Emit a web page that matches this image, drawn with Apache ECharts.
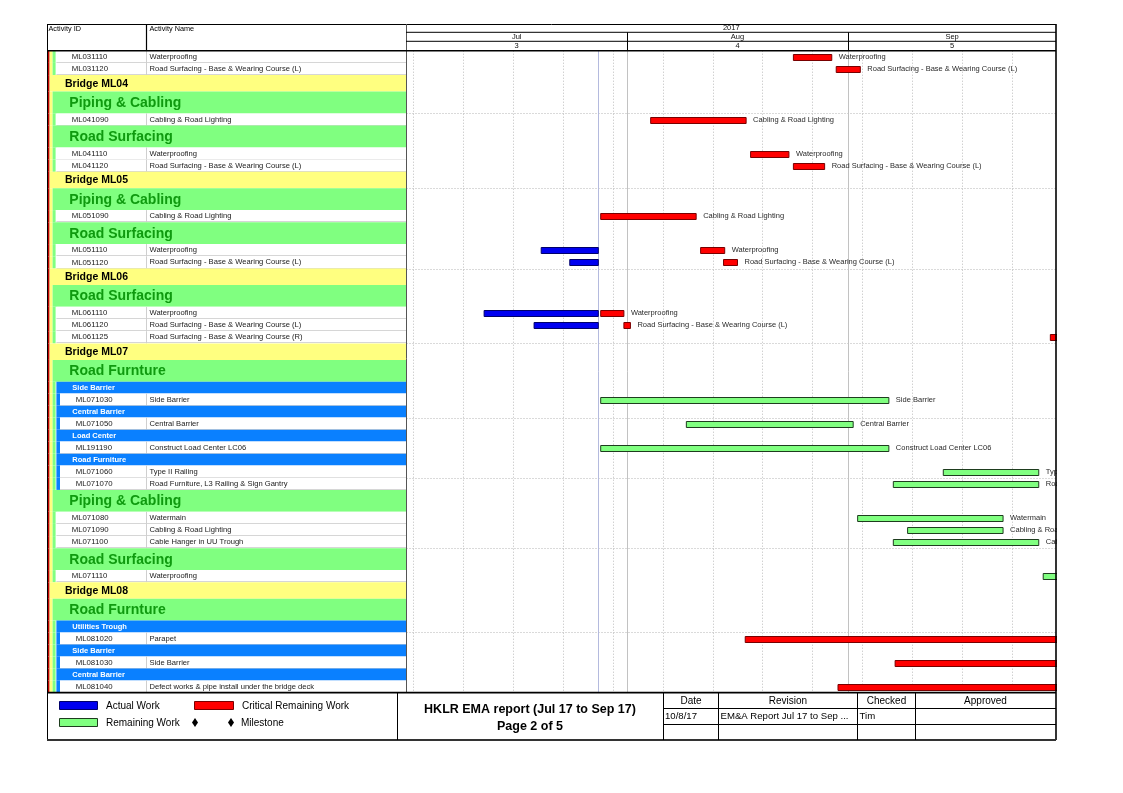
<!DOCTYPE html>
<html>
<head>
<meta charset="utf-8">
<title>HKLR EMA report</title>
<script src="https://cdn.jsdelivr.net/npm/echarts@6.0.0/dist/echarts.min.js"></script>
<style>
html,body{margin:0;padding:0;background:#ffffff;}
#chart{width:1123px;height:793px;}
</style>
</head>
<body>
<div id="chart"></div>
<script>
// ================= DATA =================
const rowKind = ['A','A','B','G','A','G','A','A','B','G','A','G','A','A','B','G','A','A','A','B','G','S','A','S','A','S','A','S','A','A','G','A','A','A','G','A','B','G','S','A','S','A','S','A'];
const rowId = ['ML031110','ML031120','','','ML041090','','ML041110','ML041120','','','ML051090','','ML051110','ML051120','','','ML061110','ML061120','ML061125','','','','ML071030','','ML071050','','ML191190','','ML071060','ML071070','','ML071080','ML071090','ML071100','','ML071110','','','','ML081020','','ML081030','','ML081040'];
const rowName = ['Waterproofing','Road Surfacing - Base & Wearing Course (L)','Bridge ML04','Piping & Cabling','Cabling & Road Lighting','Road Surfacing','Waterproofing','Road Surfacing - Base & Wearing Course (L)','Bridge ML05','Piping & Cabling','Cabling & Road Lighting','Road Surfacing','Waterproofing','Road Surfacing - Base & Wearing Course (L)','Bridge ML06','Road Surfacing','Waterproofing','Road Surfacing - Base & Wearing Course (L)','Road Surfacing - Base & Wearing Course (R)','Bridge ML07','Road Furnture','Side Barrier','Side Barrier','Central Barrier','Central Barrier','Load Center','Construct Load Center LC06','Road Furniture','Type II Railing','Road Furniture, L3 Railing & Sign Gantry','Piping & Cabling','Watermain','Cabling & Road Lighting','Cable Hanger in UU Trough','Road Surfacing','Waterproofing','Bridge ML08','Road Furnture','Utilities Trough','Parapet','Side Barrier','Side Barrier','Central Barrier','Defect works & pipe install under the bridge deck'];

const yearLabel = '2017';
const monthStarts = ['2017-07-01','2017-08-01','2017-09-01','2017-10-01'];
const monthLabels = ['Jul','Aug','Sep'];
const periodLabels = ['3','4','5'];
const weekLines = ['2017-07-02','2017-07-09','2017-07-16','2017-07-23','2017-07-30','2017-08-06','2017-08-13','2017-08-20','2017-08-27','2017-09-03','2017-09-10','2017-09-17','2017-09-24'];
const dataDate = '2017-07-28 00:00';
const viewStart = '2017-07-01 03:00';
const viewEnd = '2017-09-30 03:00';

const actualIds = ['ML051110','ML051120','ML061110','ML061120'];
const actualStart = ['2017-07-20 00:00','2017-07-24 00:00','2017-07-12 00:00','2017-07-19 00:00'];
const actualFinish = ['2017-07-28 00:00','2017-07-28 00:00','2017-07-28 00:00','2017-07-28 00:00'];

const remainIds = ['ML031110','ML031120','ML041090','ML041110','ML041120','ML051090','ML051110','ML051120','ML061110','ML061120','ML061125','ML071030','ML071050','ML191190','ML071060','ML071070','ML071080','ML071090','ML071100','ML071110','ML081020','ML081030','ML081040'];
const remainStart = ['2017-08-24 08:00','2017-08-30 08:00','2017-08-04 08:00','2017-08-18 08:00','2017-08-24 08:00','2017-07-28 08:00','2017-08-11 08:00','2017-08-14 13:00','2017-07-28 08:00','2017-07-31 14:00','2017-09-29 08:00','2017-07-28 08:00','2017-08-09 08:00','2017-07-28 08:00','2017-09-14 08:00','2017-09-07 08:00','2017-09-02 08:00','2017-09-09 08:00','2017-09-07 08:00','2017-09-28 08:00','2017-08-17 14:00','2017-09-07 14:00','2017-08-30 14:00'];
const remainFinish = ['2017-08-29 17:00','2017-09-02 17:00','2017-08-17 17:00','2017-08-23 17:00','2017-08-28 17:00','2017-08-10 17:00','2017-08-14 17:00','2017-08-16 12:00','2017-07-31 14:00','2017-08-01 12:00','2017-10-16 17:00','2017-09-06 17:00','2017-09-01 17:00','2017-09-06 17:00','2017-09-27 17:00','2017-09-27 17:00','2017-09-22 17:00','2017-09-22 17:00','2017-09-27 17:00','2017-10-11 17:00','2017-10-31 17:00','2017-10-31 17:00','2017-10-31 17:00'];
const remainCritical = [1,1,1,1,1,1,1,1,1,1,1,0,0,0,0,0,0,0,0,0,1,1,1];

const legendLabels = ['Actual Work','Critical Remaining Work','Remaining Work','Milestone'];
const titleLines = ['HKLR EMA report (Jul 17 to Sep 17)','Page 2 of 5'];
const revHeader = ['Date','Revision','Checked','Approved'];
const revRow = ['10/8/17','EM&A Report Jul 17 to Sep ...','Tim',''];
const colHeader = ['Activity ID','Activity Name'];

// ================= HELPERS =================
const FONT = '"Liberation Sans", Arial, Helvetica, sans-serif';
function ts(s){
  const parts = s.split(' ');
  const d = parts[0].split('-').map(Number);
  const t = (parts[1] || '00:00').split(':').map(Number);
  return new Date(d[0], d[1]-1, d[2], t[0], t[1]).getTime();
}
const kindH = {A:12.2, S:11.8, B:16.5, G:21.8};
const rowTop = [], rowBot = [], rowMid = [], underSub = [];
let acc = 0, lastHdr = '';
rowKind.forEach((k,i)=>{
  rowTop.push(acc); acc += kindH[k]; rowBot.push(acc); rowMid.push((rowTop[i]+rowBot[i])/2);
  if (k !== 'A') lastHdr = k;
  underSub.push(k === 'A' && lastHdr === 'S');
});
const TOTAL = acc;
const TOP = 50.7, TW = 359;
const rowIndexOf = id => rowId.indexOf(id);

const bars = [];
actualIds.forEach((id,i)=>bars.push({row:rowIndexOf(id), s:ts(actualStart[i]), e:ts(actualFinish[i]), kind:0}));
remainIds.forEach((id,i)=>bars.push({row:rowIndexOf(id), s:ts(remainStart[i]), e:ts(remainFinish[i]), kind: remainCritical[i] ? 1 : 2}));
const barStyle = [
  {fill:'#0000F0', stroke:'#00006A'},
  {fill:'#FF0000', stroke:'#780000'},
  {fill:'#80FF80', stroke:'#1E3C1E'}
];
const hLineRows = rowKind.map((k,i)=>i).filter(i=>i%5===4);

function txt(x,y,text,font,fill,align){
  return {type:'text', silent:true, style:{x, y, text, font, fill: fill||'#000',
    textAlign: align||'left', align: align||'left', textVerticalAlign:'middle', verticalAlign:'middle'}};
}
const crisp = v => Math.round(v) + 0.5;

// ================= RENDERERS =================
function renderTable(params, api){
  const i = params.dataIndex, k = rowKind[i];
  const y0 = api.coord([0,rowTop[i]])[1], y1 = api.coord([0,rowBot[i]])[1];
  const X = v => api.coord([v, rowTop[i]])[0];
  const h = y1 - y0, yc = (y0 + y1)/2;
  const ch = [];
  const rect = (a,b,fill)=>ch.push({type:'rect', silent:true, shape:{x:X(a), y:y0, width:X(b)-X(a), height:h}, style:{fill}});
  rect(0.8, 2.6, '#C00000');
  if (k === 'B'){
    rect(2.6, TW, '#FFFF80');
    ch.push(txt(X(18), yc+0.5, rowName[i], 'bold 10.5px '+FONT, '#000'));
  } else {
    rect(2.6, 5.6, '#FFFF80');
    if (k === 'G'){
      rect(5.6, TW, '#80FF80');
      ch.push(txt(X(22.3), yc+0.5, rowName[i], 'bold 14px '+FONT, '#0F9A0F'));
    } else {
      rect(5.6, 8.6, '#80FF80');
      if (k === 'S'){
        rect(9.4, TW, '#0A80FF');
        ch.push(txt(X(25.3), yc, rowName[i], 'bold 7.5px '+FONT, '#ffffff'));
      } else {
        let wx = 9.4;
        if (underSub[i]){ rect(9.4, 13, '#0A80FF'); wx = 13; }
        rect(wx, TW, '#ffffff');
        ch.push({type:'line', silent:true, shape:{x1:X(wx), y1:crisp(y1-1), x2:X(TW), y2:crisp(y1-1)}, style:{stroke:'#d6d6d6', lineWidth:1}});
        ch.push({type:'line', silent:true, shape:{x1:crisp(X(99)), y1:y0, x2:crisp(X(99)), y2:y1}, style:{stroke:'#cfcfcf', lineWidth:1}});
        ch.push(txt(X(underSub[i] ? 28.7 : 24.7), yc, rowId[i], '7.8px '+FONT, '#1a1a1a'));
        ch.push(txt(X(102.5), yc, rowName[i], '7.6px '+FONT, '#1a1a1a'));
      }
    }
  }
  return {type:'group', children:ch};
}

function vLine(color, dash){
  return function(params, api){
    const cs = params.coordSys;
    const x = crisp(api.coord([api.value(0), 0])[0]);
    return {type:'line', silent:true, shape:{x1:x, y1:cs.y, x2:x, y2:cs.y+cs.height},
      style:{stroke:color, lineWidth:1, lineDash: dash || null}};
  };
}
function renderHLine(params, api){
  const cs = params.coordSys;
  const y = crisp(api.coord([ts(viewStart), api.value(0)])[1]);
  return {type:'line', silent:true, shape:{x1:cs.x, y1:y, x2:cs.x+cs.width, y2:y},
    style:{stroke:'#b4b4b4', lineWidth:1, lineDash:[1,2]}};
}
function renderHeader(params, api){
  const cs = params.coordSys, i = params.dataIndex;
  const clampX = x => Math.max(cs.x, Math.min(cs.x+cs.width, x));
  const x0 = clampX(api.coord([ts(monthStarts[i]), 0])[0]);
  const x1 = clampX(api.coord([ts(monthStarts[i+1]), 0])[0]);
  const ch = [];
  if (x0 > cs.x + 1) ch.push({type:'line', silent:true, shape:{x1:crisp(x0), y1:32.3, x2:crisp(x0), y2:cs.y}, style:{stroke:'#000', lineWidth:1}});
  ch.push(txt((x0+x1)/2, 36.9, monthLabels[i], '7.5px '+FONT, '#111', 'center'));
  ch.push(txt((x0+x1)/2, 46.0, periodLabels[i], '7.5px '+FONT, '#111', 'center'));
  if (i === 0) ch.push(txt(cs.x + cs.width/2, 28.2, yearLabel, '7.5px '+FONT, '#111', 'center'));
  return {type:'group', children:ch};
}
function renderBar(params, api){
  const b = bars[params.dataIndex];
  const p0 = api.coord([b.s, rowMid[b.row]]), p1 = api.coord([b.e, rowMid[b.row]]);
  const st = barStyle[b.kind];
  const y = Math.round(p0[1] - 3) + 0.5;
  const ch = [{type:'rect', silent:true, shape:{x:p0[0], y, width:Math.max(p1[0]-p0[0], 1), height:6},
    style:{fill:st.fill, stroke:st.stroke, lineWidth:1}}];
  if (b.kind !== 0) ch.push(txt(p1[0] + 7, p0[1], rowName[b.row], '7.5px '+FONT, '#2a2a2a'));
  return {type:'group', children:ch};
}

// ================= GRAPHIC (frames, footer) =================
const G = [];
function L(x1,y1,x2,y2,w,c){ G.push({type:'line', z:50, silent:true, shape:{x1,y1,x2,y2}, style:{stroke:c||'#000', lineWidth:w||1}}); }
function T(x,y,text,font,align){ const t = txt(x,y,text,font,'#000',align); t.z = 51; G.push(t); }
function R(x,y,w,h,fill,stroke){ G.push({type:'rect', z:50, silent:true, shape:{x,y,width:w,height:h}, style:{fill, stroke:stroke||null, lineWidth:1}}); }
function D(cx,cy){ G.push({type:'polygon', z:51, silent:true, shape:{points:[[cx,cy-4.5],[cx+3,cy],[cx,cy+4.5],[cx-3,cy]]}, style:{fill:'#000'}}); }

// header
L(47,24.5,1056,24.5,1);
L(146.5,24,146.5,50.7,1.2);
L(406.5,24,406.5,692.6,1,'#555');
L(406,32.3,1056,32.3,1);
L(406,41.3,1056,41.3,1);
L(47,50.7,1056,50.7,1.6);
L(47.5,24,47.5,740,1);
L(1056,24,1056,740,1.6);
T(48.5,28.6,colHeader[0],'7.3px '+FONT);
T(149.5,28.6,colHeader[1],'7.3px '+FONT);
// footer frame
L(47,692.6,1056,692.6,1.6);
L(47,740,1056,740,1.8,'#333');
L(397.5,692.6,397.5,740,1);
L(663.5,692.6,663.5,740,1);
L(663,708.5,1056,708.5,1);
L(663,724.5,1056,724.5,1);
L(718.5,692.6,718.5,740,1);
L(857.5,692.6,857.5,740,1);
L(915.5,692.6,915.5,740,1);
// legend
R(59.5,701.5,38,8,'#0000F0','#00006A'); T(106,705.8,legendLabels[0],'10px '+FONT);
R(194.5,701.5,39,8,'#FF0000','#780000'); T(242,705.8,legendLabels[1],'10px '+FONT);
R(59.5,718.5,38,8,'#80FF80','#1E3C1E'); T(106,722.8,legendLabels[2],'10px '+FONT);
D(195,722.5); D(231,722.5); T(241,722.8,legendLabels[3],'10px '+FONT);
// title
T(530,709.5,titleLines[0],'bold 12.5px '+FONT,'center');
T(530,726.5,titleLines[1],'bold 12.5px '+FONT,'center');
// revision table
const revCenters = [691,788,886.5,985.5];
revHeader.forEach((s,i)=>T(revCenters[i],700.8,s,'10px '+FONT,'center'));
const revLefts = [665,720.5,859.5,917.5];
revRow.forEach((s,i)=>{ if (s) T(revLefts[i],716.6,s,'9.6px '+FONT); });

// ================= CHART =================
const chart = echarts.init(document.getElementById('chart'), null, {renderer:'canvas'});
chart.setOption({
  animation:false,
  backgroundColor:'#ffffff',
  grid:[
    {left:406.5, top:TOP, width:649.5, height:TOTAL},
    {left:47, top:TOP, width:TW, height:TOTAL}
  ],
  xAxis:[
    {type:'value', gridIndex:0, min:ts(viewStart), max:ts(viewEnd), show:false},
    {type:'value', gridIndex:1, min:0, max:TW, show:false}
  ],
  yAxis:[
    {type:'value', gridIndex:0, min:0, max:TOTAL, inverse:true, show:false},
    {type:'value', gridIndex:1, min:0, max:TOTAL, inverse:true, show:false}
  ],
  series:[
    {type:'custom', name:'table', xAxisIndex:1, yAxisIndex:1, silent:true, renderItem:renderTable,
      data: rowKind.map((k,i)=>[0, rowMid[i]])},
    {type:'custom', name:'weeks', xAxisIndex:0, yAxisIndex:0, silent:true, renderItem:vLine('#bcbcbc',[1,2]),
      data: weekLines.map(s=>[ts(s), 0])},
    {type:'custom', name:'rows', xAxisIndex:0, yAxisIndex:0, silent:true, renderItem:renderHLine,
      data: hLineRows.map(i=>[rowTop[i]])},
    {type:'custom', name:'months', xAxisIndex:0, yAxisIndex:0, silent:true, renderItem:vLine('#c2c2c2'),
      data: monthStarts.slice(1,3).map(s=>[ts(s), 0])},
    {type:'custom', name:'dataDate', xAxisIndex:0, yAxisIndex:0, silent:true, renderItem:vLine('#b4bade'),
      data: [[ts(dataDate), 0]]},
    {type:'custom', name:'header', xAxisIndex:0, yAxisIndex:0, silent:true, clip:false, renderItem:renderHeader,
      data: monthLabels.map((m,i)=>[ts(monthStarts[i]), 0])},
    {type:'custom', name:'bars', xAxisIndex:0, yAxisIndex:0, silent:true, clip:true, renderItem:renderBar,
      data: bars.map(b=>[b.s, rowMid[b.row], b.e])}
  ],
  graphic: G
});
</script>
</body>
</html>
